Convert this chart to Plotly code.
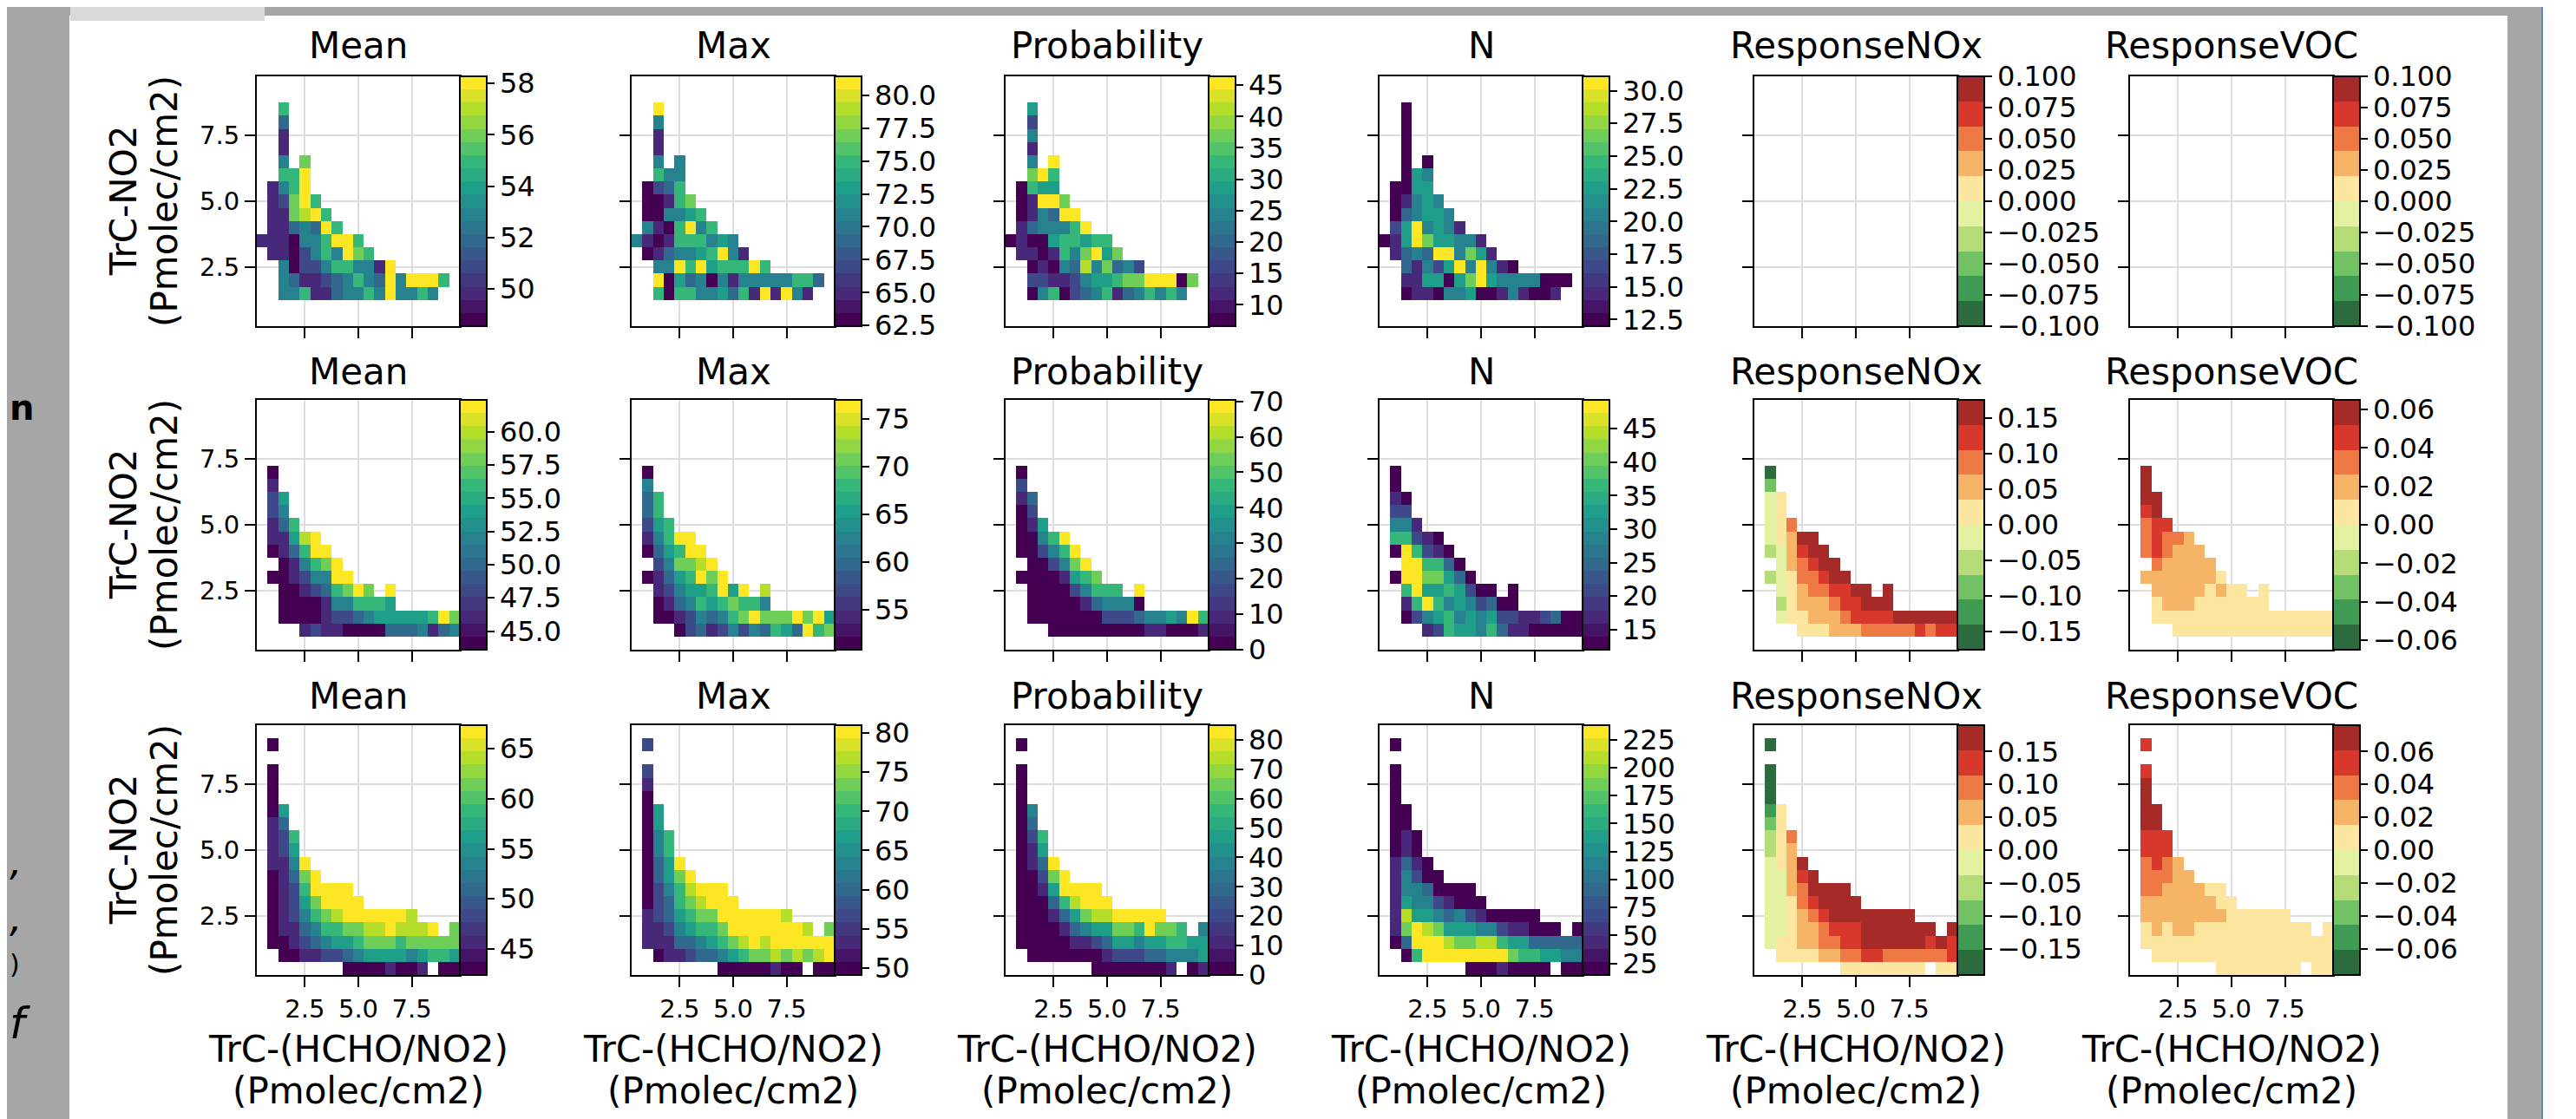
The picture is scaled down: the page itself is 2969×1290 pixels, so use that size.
import plotly.graph_objects as go
from plotly.colors import sample_colorscale

W, H = 2969, 1290
FONT = "DejaVu Sans"

# ---------------- data ----------------
X_BINS = [0.5, 1.0, 1.5, 2.0, 2.5, 3.0, 3.5, 4.0, 4.5, 5.0, 5.5, 6.0, 6.5, 7.0, 7.5, 8.0, 8.5, 9.0, 9.5]
Y_BINS = [0.5, 1.0, 1.5, 2.0, 2.5, 3.0, 3.5, 4.0, 4.5, 5.0, 5.5, 6.0, 6.5, 7.0, 7.5, 8.0, 8.5, 9.0, 9.5]
AXIS_TICKS = [2.5, 5.0, 7.5]
AXIS_TICKTEXT = ["2.5", "5.0", "7.5"]

PANEL_TITLES = ["Mean", "Max", "Probability", "N", "ResponseNOx", "ResponseVOC"]
Y_TITLE = ["TrC-NO2", "(Pmolec/cm2)"]
X_TITLE = ["TrC-(HCHO/NO2)", "(Pmolec/cm2)"]

# colour-bar ranges (row, column)
CRANGE = [
    [(48.55, 58.28), (62.45, 81.43), (6.6, 46.4), (12.0, 31.1), (-0.1, 0.1), (-0.1, 0.1)],
    [(43.6, 62.4), (50.8, 77.0), (0.0, 70.4), (12.0, 49.3), (-0.176, 0.176), (-0.065, 0.065)],
    [(42.4, 67.35), (49.1, 81.0), (0.0, 85.0), (14.6, 238.0), (-0.19, 0.19), (-0.076, 0.076)],
]
CTICKS = [
    [[50, 52, 54, 56, 58], [62.5, 65, 67.5, 70, 72.5, 75, 77.5, 80], [10, 15, 20, 25, 30, 35, 40, 45],
     [12.5, 15, 17.5, 20, 22.5, 25, 27.5, 30],
     [-0.1, -0.075, -0.05, -0.025, 0, 0.025, 0.05, 0.075, 0.1],
     [-0.1, -0.075, -0.05, -0.025, 0, 0.025, 0.05, 0.075, 0.1]],
    [[45, 47.5, 50, 52.5, 55, 57.5, 60], [55, 60, 65, 70, 75], [0, 10, 20, 30, 40, 50, 60, 70],
     [15, 20, 25, 30, 35, 40, 45], [-0.15, -0.1, -0.05, 0, 0.05, 0.1, 0.15],
     [-0.06, -0.04, -0.02, 0, 0.02, 0.04, 0.06]],
    [[45, 50, 55, 60, 65], [50, 55, 60, 65, 70, 75, 80], [0, 10, 20, 30, 40, 50, 60, 70, 80],
     [25, 50, 75, 100, 125, 150, 175, 200, 225], [-0.15, -0.1, -0.05, 0, 0.05, 0.1, 0.15],
     [-0.06, -0.04, -0.02, 0, 0.02, 0.04, 0.06]],
]
CDECIMALS = [[0, 1, 0, 1, 3, 3], [1, 0, 0, 0, 2, 2], [0, 0, 0, 0, 2, 2]]

# Cell colour levels, one string per grid row from top (y=9.5) to bottom (y=0.5),
# one character per column from x=0.5 to x=9.5; '.' = empty cell, 0..9 = colour level (low..high)
MEAN_1 = ["", "", "..6", "..3", "..1", "..1", "..4.7", "..669", ".1469", ".12796", ".117896", ".1134396",
          "1110446996", ".1102464976", "..40224664419", "..4311234643949996", "..446113446494464", "", ""]
MAX_1 = ["", "", "..9", "..4", "..1", "..1", "..4.4", "..644", ".0236", ".00167", ".004456", ".4106946",
         "4101666454", ".0134456941", "..44969566696", "..9053404144444663", "..606644536191941", "", ""]
PROB_1 = ["", "", "..5", "..2", "..4", "..1", "..4.9", "..796", ".0655", ".01997", ".014399", ".1344469",
          "0100566566", ".1101647957", "..01043847342", "..2211245567799907", "..046023461346464", "", ""]
N_1 = ["", "", "..0", "..0", "..0", "..0", "..0.0", "..054", ".0055", ".01454", ".034554", ".2594541",
       "0159755441", ".1343994751", "..31425949410", "..1155057954444000", "..011044500141001", "", ""]
NOX_1 = [""] * 19
VOC_1 = [""] * 19

MEAN_2 = ["", "", "", "", "", ".0", ".1", ".25", ".24", ".136", ".11589", ".013699", "..014679", ".00124499",
          "..001236797.9", "..00001446665", "..00001223455555697", "....121100003334134", ""]
MAX_2 = ["", "", "", "", "", ".0", ".4", ".36", ".36", ".256", ".14699", ".035699", "..247789", ".01356979",
         "..124556959.8", "..01346567664", "..00124346797779795", "....023124243653967", ""]
PROB_2 = ["", "", "", "", "", ".0", ".2", ".13", ".02", ".015", ".00469", ".002469", "..002479", ".00001567",
          "..000024666.9", "..00000134440", "..00000002223445496", "....000000000110001", ""]
N_2 = ["", "", "", "", "", ".0", ".0", ".10", ".22", ".441", ".66210", ".096210", "..996630", ".09977530",
       "..695565200.0", "..16964542300", "..02456454522112300", "....126554631100000", ""]
NOX_2 = ["", "", "", "", "", ".0", ".2", ".45", ".45", ".457", ".45699", ".346899", "..467899", ".34577899",
         "..456778899.9", "..35666788999", "..45566678888999999", "....555666777778788", ""]
VOC_2 = ["", "", "", "", "", ".9", ".9", ".99", ".89", ".788", ".78776", ".787666", "..766666", ".66666665",
         "..666665655.5", "..56665555555", "..55555555555555555", "....555555555555555", ""]

MEAN_3 = ["", ".0", "", ".0", ".0", ".0", ".05", ".13", ".126", ".125", ".1149", ".01379", ".01269999",
          ".012579999", ".01246789999998", ".0113466778898889.7", ".001234556777677777",
          "..00112234555545665", "........00001001.00"]
MAX_3 = ["", ".2", "", ".2", ".1", ".0", ".05", ".05", ".046", ".046", ".0359", ".03579", ".02468999",
         ".023678999", ".12356779999998", ".1124566799999998.7", ".111334567898999999",
         "..01123345677878789", "........00000100.00"]
PROB_3 = ["", ".0", "", ".0", ".0", ".0", ".04", ".03", ".026", ".015", ".0139", ".00279", ".00159999",
          ".000368999", ".00013578899999", ".0000134557769776.4", ".000001123554556655",
          "..00000001222334445", "........00000001.01"]
N_3 = ["", ".0", "", ".0", ".0", ".0", ".00", ".00", ".010", ".010", ".1310", ".14200", ".14430000",
       ".154421000", ".18554342100000", ".1798755544211000.0", ".039998778865533333",
       "..06999999997665544", "........00010000.00"]
NOX_3 = ["", ".0", "", ".0", ".0", ".0", ".15", ".25", ".357", ".356", ".4569", ".44689", ".44679999",
         ".445789999", ".44567899999999", ".4456678889999999.9", ".455667788999999898",
         "..55556677887777778", "........55555555.55"]
VOC_3 = ["", ".8", "", ".8", ".9", ".9", ".99", ".99", ".888", ".888", ".7876", ".77766", ".77666655",
         ".666666655", ".66666666555555", ".5656655555555555.5", ".555555555555555555",
         "..55555555555555555", "........55555555.55"]

GRIDS = [
    [MEAN_1, MAX_1, PROB_1, N_1, NOX_1, VOC_1],
    [MEAN_2, MAX_2, PROB_2, N_2, NOX_2, VOC_2],
    [MEAN_3, MAX_3, PROB_3, N_3, NOX_3, VOC_3],
]

# ---------------- styling / layout ----------------
PANEL_LEFT = [288, 720, 1151, 1582, 2014, 2447]
HM_W = 234
CB_W = 31
ROW_TOP = [80, 453, 828]
ROW_H = 288
TITLE_Y = [45, 420, 794]

VIRIDIS_19 = sample_colorscale("Viridis", [b / 18 for b in range(19)])
RDYLGN_10 = ["#2c6b3c", "#3f9a53", "#72c164", "#b5dc76", "#e4f0a2",
             "#fde7a0", "#f5b466", "#ef7945", "#d7382b", "#a62b28"]


def banded(colors):
    n = len(colors)
    cs = []
    for i, c in enumerate(colors):
        cs.append([i / n, c])
        cs.append([(i + 1) / n, c])
    return cs


def fmt(v, d):
    s = f"{v:.{d}f}"
    if s.startswith("-"):
        s = "\u2212" + s[1:]
    return s


def fx(px):
    return px / W


def fy(px):
    return 1 - px / H


fig = go.Figure()
layout = dict(width=W, height=H, margin=dict(l=0, r=0, t=0, b=0),
              paper_bgcolor="white", plot_bgcolor="white", showlegend=False,
              font=dict(family=FONT, color="black"))
annotations = []

for r in range(3):
    for c in range(6):
        n = r * 6 + c + 1
        sfx = "" if n == 1 else str(n)
        L = PANEL_LEFT[c]
        T = ROW_TOP[r]
        lo, hi = CRANGE[r][c]
        diverging = c >= 4
        grid = GRIDS[r][c]
        z = []
        has_data = False
        for j in range(19):
            row = grid[18 - j].ljust(19, ".")[:19]
            zr = []
            for ch in row:
                if ch == ".":
                    zr.append(None)
                else:
                    has_data = True
                    d = int(ch)
                    if diverging:
                        v = lo + (d + 0.5) / 10 * (hi - lo)
                    else:
                        v = lo + (2 * d + 0.5) / 19 * (hi - lo)
                    zr.append(round(v, 6))
            z.append(zr)

        cscale = banded(RDYLGN_10 if diverging else VIRIDIS_19)
        tv = CTICKS[r][c]
        tt = [fmt(v, CDECIMALS[r][c]) for v in tv]
        cbar = dict(x=fx(L + HM_W), xanchor="left", xref="paper",
                    y=fy(T + ROW_H / 2), yanchor="middle", yref="paper",
                    len=ROW_H, lenmode="pixels", thickness=CB_W, thicknessmode="pixels",
                    xpad=0, ypad=0, outlinewidth=2, outlinecolor="black", borderwidth=0,
                    ticks="outside", ticklen=8, tickwidth=2, tickcolor="black",
                    tickvals=tv, ticktext=tt,
                    tickfont=dict(family=FONT, size=32, color="black"))
        fig.add_trace(go.Heatmap(
            x=X_BINS, y=Y_BINS, z=z, zmin=lo, zmax=hi, zauto=False,
            colorscale=cscale, xaxis="x" + sfx, yaxis="y" + sfx,
            hoverongaps=False, showscale=has_data, colorbar=cbar,
        ))
        if not has_data:
            # empty panel: draw its colour bar alone
            fig.add_trace(go.Scatter(
                x=[None], y=[None], mode="markers", xaxis="x" + sfx, yaxis="y" + sfx,
                hoverinfo="skip",
                marker=dict(color=[lo], cmin=lo, cmax=hi, colorscale=cscale,
                            showscale=True, colorbar=cbar, size=1),
            ))
        common = dict(ticks="outside", ticklen=12, tickwidth=2, tickcolor="black",
                      showgrid=True, gridcolor="#dedede", gridwidth=2,
                      showline=True, linecolor="black", linewidth=2, mirror=True,
                      zeroline=False, fixedrange=True,
                      tickvals=AXIS_TICKS, ticktext=AXIS_TICKTEXT,
                      tickfont=dict(family=FONT, size=29, color="black"))
        layout["xaxis" + sfx] = dict(domain=[fx(L), fx(L + HM_W)], range=[0.25, 9.75],
                                     anchor="y" + sfx, showticklabels=(r == 2), **common)
        layout["yaxis" + sfx] = dict(domain=[fy(T + ROW_H), fy(T)], range=[0.25, 9.75],
                                     anchor="x" + sfx, showticklabels=(c == 0), **common)
        annotations.append(dict(text=PANEL_TITLES[c], x=fx(L + HM_W / 2), y=fy(TITLE_Y[r]),
                                xref="paper", yref="paper", xanchor="center", yanchor="middle",
                                showarrow=False, font=dict(family=FONT, size=42, color="black")))
    for txt, xp in zip(Y_TITLE, [134, 181]):
        annotations.append(dict(text=txt, x=fx(xp), y=fy(ROW_TOP[r] + ROW_H / 2),
                                xref="paper", yref="paper", xanchor="center", yanchor="middle",
                                textangle=-90, showarrow=False,
                                font=dict(family=FONT, size=42, color="black")))

for c in range(6):
    for txt, yp in zip(X_TITLE, [1201, 1249]):
        annotations.append(dict(text=txt, x=fx(PANEL_LEFT[c] + HM_W / 2), y=fy(yp),
                                xref="paper", yref="paper", xanchor="center", yanchor="middle",
                                showarrow=False, font=dict(family=FONT, size=42, color="black")))

# fragments of the page text visible in the left margin
for txt, yp, size, style, weight in [("n", 462, 40, "normal", "bold"),
                                     (",", 985, 46, "italic", "normal"),
                                     (",", 1050, 46, "italic", "normal"),
                                     (")", 1103, 30, "normal", "normal"),
                                     ("f", 1172, 50, "italic", "normal")]:
    annotations.append(dict(text=txt, x=fx(1), y=fy(yp), xref="paper", yref="paper",
                            xanchor="left", yanchor="middle", showarrow=False,
                            font=dict(family=FONT, size=size, color="black", style=style, weight=weight)))

GRAY = "#a6a6a6"
shapes = [
    dict(type="rect", xref="paper", yref="paper", x0=0, x1=fx(72), y0=0, y1=1,
         fillcolor=GRAY, line=dict(width=0), layer="below"),
    dict(type="rect", xref="paper", yref="paper", x0=fx(72), x1=fx(2921), y0=fy(10), y1=1,
         fillcolor=GRAY, line=dict(width=0), layer="below"),
    dict(type="rect", xref="paper", yref="paper", x0=fx(73), x1=fx(297), y0=fy(16), y1=1,
         fillcolor="#d9d9d9", line=dict(width=0), layer="below"),
    dict(type="rect", xref="paper", yref="paper", x0=fx(2882), x1=fx(2921), y0=0, y1=1,
         fillcolor=GRAY, line=dict(width=0), layer="below"),
    dict(type="rect", xref="paper", yref="paper", x0=fx(2921), x1=fx(2923), y0=0, y1=1,
         fillcolor="#5b8bd0", line=dict(width=0), layer="below"),
]

layout["annotations"] = annotations
layout["shapes"] = shapes
fig.update_layout(**layout)
fig.write_html("out.html")
